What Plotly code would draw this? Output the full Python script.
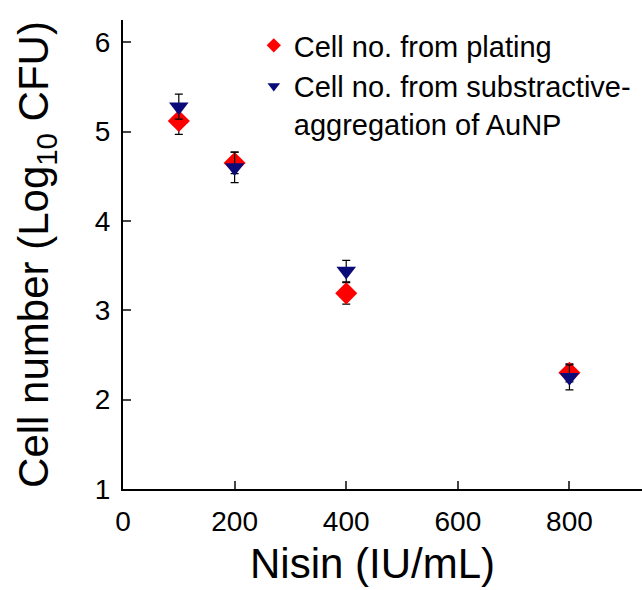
import plotly.graph_objects as go

nisin = [100, 200, 400, 800]
plating = [5.12, 4.65, 3.19, 2.30]
plating_err = [0.15, 0.12, 0.12, 0.10]
aunp = [5.28, 4.60, 3.44, 2.25]
aunp_err = [0.14, 0.17, 0.12, 0.14]

x_ticks = [0, 200, 400, 600, 800]
y_ticks = [1, 2, 3, 4, 5, 6]

name_plating = "Cell no. from plating"
name_aunp = "Cell no. from substractive-<br>aggregation of AuNP"
x_title = "Nisin (IU/mL)"
y_title = "Cell number (Log<sub>10</sub> CFU)"

font = "Liberation Sans, Arial, sans-serif"
red = "#ff0000"
navy = "#0a0a78"

fig = go.Figure()
fig.add_trace(go.Scatter(
    x=nisin, y=plating, mode="markers", showlegend=False,
    marker=dict(symbol="diamond", size=17, color=red),
    error_y=dict(type="data", array=plating_err, color="black", thickness=1.2, width=4),
))
fig.add_trace(go.Scatter(
    x=nisin, y=aunp, mode="markers", showlegend=False,
    marker=dict(symbol="triangle-down", size=17, color=navy),
    error_y=dict(type="data", array=aunp_err, color="black", thickness=1.2, width=4),
))
# legend entries with smaller symbols
fig.add_trace(go.Scatter(x=[None], y=[None], mode="markers", name=name_plating,
                         marker=dict(symbol="diamond", size=11, color=red)))
fig.add_trace(go.Scatter(x=[None], y=[None], mode="markers", name=name_aunp,
                         marker=dict(symbol="triangle-down", size=11, color=navy)))

fig.update_layout(
    width=642, height=590,
    margin=dict(l=123, r=0, t=20, b=101),
    paper_bgcolor="white", plot_bgcolor="white",
    font=dict(family=font, color="black"),
    legend=dict(x=0.252, y=1.0, xanchor="left", yanchor="top",
                font=dict(size=29, family=font), bgcolor="rgba(0,0,0,0)",
                itemwidth=30, tracegroupgap=0, valign="top"),
    annotations=[dict(text=x_title, xref="paper", yref="paper", x=0.48, y=-0.158,
                      xanchor="center", yanchor="middle", showarrow=False, borderpad=0,
                      font=dict(size=42, family=font, color="black"))],
)
fig.update_xaxes(
    range=[0, 930], tickvals=x_ticks, ticks="inside", ticklen=8, tickwidth=2,
    showline=True, linecolor="black", linewidth=2, showgrid=False, zeroline=False,
    automargin=False, ticklabelstandoff=6,
    tickfont=dict(size=28),
)
fig.update_yaxes(
    range=[1, 6.25], tickvals=y_ticks, ticks="inside", ticklen=8, tickwidth=2,
    showline=True, linecolor="black", linewidth=2, showgrid=False, zeroline=False,
    automargin=False, ticklabelstandoff=5,
    tickfont=dict(size=28), title=dict(text=y_title, font=dict(size=42), standoff=33),
)

fig.write_html("out.html", config={"displayModeBar": False},
               post_script="document.body.style.margin='0';document.body.style.overflow='hidden';")
